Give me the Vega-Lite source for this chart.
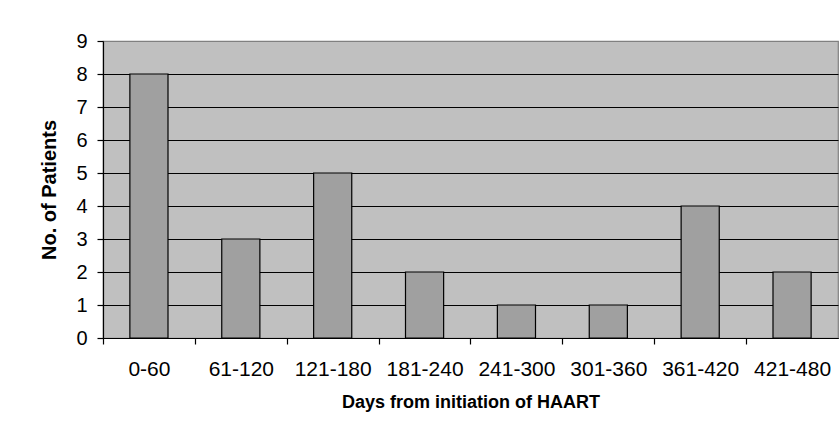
{
  "$schema": "https://vega.github.io/schema/vega-lite/v6.json",
  "width": 735,
  "height": 297,
  "autosize": {"type": "none"},
  "padding": {"left": 103, "top": 41, "right": 2, "bottom": 97},
  "background": "white",
  "config": {
    "font": "Liberation Sans",
    "view": {"fill": "#C0C0C0", "stroke": "#808080", "strokeWidth": 1.2}
  },
  "data": {
    "values": [
      {"days": "0-60", "patients": 8},
      {"days": "61-120", "patients": 3},
      {"days": "121-180", "patients": 5},
      {"days": "181-240", "patients": 2},
      {"days": "241-300", "patients": 1},
      {"days": "301-360", "patients": 1},
      {"days": "361-420", "patients": 4},
      {"days": "421-480", "patients": 2}
    ]
  },
  "mark": {"type": "bar", "fill": "#A0A0A0", "stroke": "#000000", "strokeWidth": 1.2},
  "encoding": {
    "x": {
      "field": "days",
      "type": "nominal",
      "sort": null,
      "scale": {"paddingInner": 0.585, "paddingOuter": 0.2925},
      "axis": {
        "title": "Days from initiation of HAART",
        "titleFont": "Liberation Sans",
        "titleFontSize": 18,
        "titleFontWeight": "bold",
        "titleColor": "#000000",
        "titlePadding": 14,
        "labelAngle": 0,
        "labelFontSize": 21,
        "labelColor": "#000000",
        "labelPadding": 14,
        "ticks": true,
        "tickOffset": -45.94,
        "labelOffset": 45.94,
        "tickSize": 6,
        "tickColor": "#000000",
        "tickWidth": 1.2,
        "domainColor": "#000000",
        "domainWidth": 1.2,
        "grid": false
      }
    },
    "y": {
      "field": "patients",
      "type": "quantitative",
      "scale": {"domain": [0, 9], "nice": false},
      "axis": {
        "title": "No. of Patients",
        "titleFont": "Liberation Sans",
        "titleFontSize": 20,
        "titleFontWeight": "bold",
        "titleColor": "#000000",
        "titlePadding": 16,
        "values": [0, 1, 2, 3, 4, 5, 6, 7, 8, 9],
        "labelFontSize": 20,
        "labelColor": "#000000",
        "labelPadding": 10,
        "tickSize": 6,
        "tickColor": "#000000",
        "tickWidth": 1.2,
        "domainColor": "#000000",
        "domainWidth": 1.2,
        "grid": true,
        "gridColor": {"condition": {"test": "datum.value == 9", "value": "#808080"}, "value": "#000000"},
        "gridWidth": 1.2
      }
    }
  }
}
